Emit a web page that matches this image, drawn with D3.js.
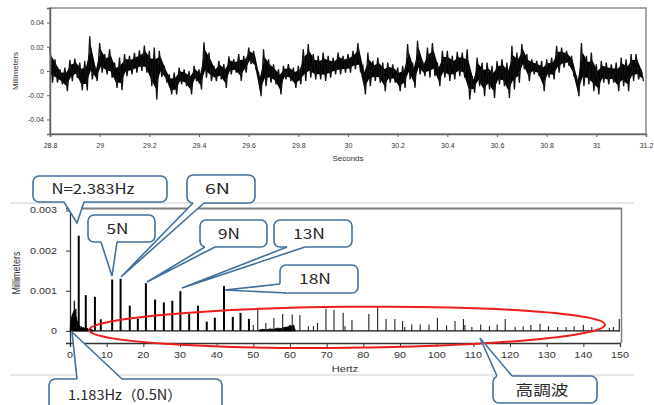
<!DOCTYPE html>
<html><head><meta charset="utf-8">
<script src="https://cdn.jsdelivr.net/npm/d3@7"></script>
<style>body{margin:0;background:#fff} svg{display:block}</style>
</head><body>
<svg id="c" width="654" height="405"></svg>
<script>
// ===== Top panel: displacement vs time (envelope per 0.02 s bin, micrometres) =====
const timeStart = 28.8, binWidth = 0.02;
const sigHi = [19.4,9.7,1.4,2.8,9.2,10.3,6.9,8.3,28.6,4.2,23,13.9,18,6.9,11.1,13.9,12.5,15,17,21,16.7,19.4,16.7,4.2,-2.8,-1.4,2.8,1.4,0,4.2,
  1.4,23.6,15.3,4.2,8.3,5.6,12,9.7,13.9,12.5,19.4,16.7,-1.4,18,9.7,5.6,1.4,4.2,5.6,2.8,4.2,18,22.2,13.9,12.5,15.3,12.5,11.1,15.3,12.5,
  13.9,16.7,23,4.2,15.3,8.3,11.1,6.9,6.9,5.6,2.8,4.2,22.2,6.9,25,8.3,19.4,23,6.9,16.7,16.7,12.5,15.8,15.3,18,-4.2,11.1,6.9,6.9,4.2,
  8.3,9.7,6.9,20.8,15.3,22.2,13.9,9.7,8.3,8.3,9.7,11.1,20.8,19.4,16.7,12.5,-4.2,23,12.5,15.3,5.6,8.3,6.9,5.6,6.9,11.1,9.7,13.9,13.9,1.4];
const sigLo = [-9.7,-9.7,-11,-16.7,-8.3,-5.6,-15.8,-16,-7,-8.3,-1.4,-2.8,-5.6,-13.9,-15.8,-4.2,-2.8,-1.4,0,-1.4,-12.5,-23.6,-5,-8.3,-19.4,-19.4,-11,-12.5,-19.4,-8.3,
  -15.3,-5.6,-8.3,-8.3,-7,-13.9,-2.8,-1.4,-8.3,-1.4,5.6,1.4,-20.8,-12.5,-9.7,-11,-19.4,-7,-8.3,-13.9,-11,-8.3,-5.6,-7,-7,-8.3,-5.6,-2.8,-2.8,-1.4,
  -1.4,1.4,0,-19.4,-12.5,-8.3,-9.7,-16.7,-9.7,-9.7,-16.7,-13.9,-7,-13.9,-2.8,-4.2,-5.6,-4.2,-12.5,-5.6,-8.3,-7,-4.2,-5.6,-23.6,-18,-12.5,-20.8,-15.3,-22.2,
  -11,-12.5,-22.2,-15.3,-9.7,1.4,-8.3,-2.8,-4.2,-16.7,-5.6,-7,-1.4,2.8,4.2,-4.2,-20.8,-12.5,-11,-16.7,-19.4,-9.7,-11,-9.7,-16.7,-12.5,-16.7,-8.3,-7,-8.3];
const timeTicks = [28.8,29,29.2,29.4,29.6,29.8,30,30.2,30.4,30.6,30.8,31,31.2];
const timeTickLabels = ['28.8','29','29.2','29.4','29.6','29.8','30','30.2','30.4','30.6','30.8','31','31.2'];
const dispTicks = [-0.04,-0.02,0,0.02,0.04];
const dispTickLabels = ['-0.04','-0.02','0','0.02','0.04'];

// ===== Bottom panel: amplitude spectrum =====
const peakHz = [2.383,4.3,6.8,8.4,11.5,13.8,16.3,18.5,20.7,23.2,25.6,27.9,30.1,32.5,34.9,37.3,39.5,42.0,44.4,46.5,48.8,50.0,
  51.2,53.4,55.6,58.0,60.6,62.7,65.0,66.4,67.5,69.8,72.0,74.5,75.0,76.9,81.5,83.9,86.2,88.6,90.7,91.3,93.2,95.5,97.9,
  100.2,102.7,105.0,107.3,107.7,109.6,112.0,114.4,116.5,118.7,121.4,123.6,125.7,128.2,130.5,133.0,135.3,137.5,140.0,142.3,147.1,148.2,149.8];
const peakMm = [0.00237,0.00089,0.00085,0.00029,0.00128,0.0013,0.00063,0.0003,0.00119,0.00078,0.00071,0.00075,0.00099,0.00042,0.00063,0.00023,0.00033,0.00112,0.00035,0.00045,0.0003,0.00015,
  0.00054,0.0002,0.00032,0.00042,0.00041,0.0004,0.00012,0.00012,0.0002,0.00055,0.00052,0.00045,0.00012,0.00027,0.00042,0.0006,0.0003,0.0003,0.00025,0.0001,0.00016,0.00016,0.00016,
  0.00033,0.00014,0.00025,0.0003,0.00015,0.0001,0.00016,0.00012,0.00016,0.0003,0.0001,0.00012,0.00015,0.00018,0.00012,0.0001,0.0001,0.00012,0.00015,0.0001,0.00008,0.0001,0.0003];
const lowNoiseHz = [0,0.1,0.2,0.3,0.4,0.5,0.6,0.7,0.8,0.9,1.0,1.1,1.18,1.3,1.4,1.5,1.6,1.7,1.8,1.9,2.0,2.1,2.2,2.6,2.8,3.0,3.3,3.6,4.0,4.5,5.0,5.5,6.0,6.5];
const lowNoiseMm = [0,0.0001,0.00025,0.00012,0.00035,0.0002,0.0004,0.00025,0.00045,0.0003,0.0005,0.00035,0.00075,0.0003,0.0005,0.00025,0.00055,0.0002,0.00035,0.00015,0.00025,0.0001,0.0002,0.00012,0.00008,0.00012,0.00006,0.0001,0.00005,0.00008,0.00004,0.00006,0.00003,0];
const humpHz = [51.5,52.5,53.5,54.5,55.5,56.5,57.5,58.5,59.5,60,60.5,61,61.4];
const humpMm = [0.00002,0.00004,0.00003,0.00005,0.00004,0.00007,0.00006,0.00009,0.0001,0.00014,0.00012,0.00015,0.00002];
const freqTicks = [0,10,20,30,40,50,60,70,80,90,100,110,120,130,140,150];
const ampTicks = [0,0.001,0.002,0.003];
const ampTickLabels = ['0','0.001','0.002','0.003'];
// harmonic region highlighted by the red ellipse (Hz / mm extents)
const ellipseHz = [5.2,145.9], ellipseMm = [-0.00042,0.0006];

const callouts = [
  {text:'N=2.383Hz', box:[33,176,134,26], tx:93, tw:83, base:[[64,202],[84,202]], tip:[77,223], inw:[0,-2.5]},
  {text:'5N', box:[88,215,67,27], tx:117.5, tw:22, base:[[101,242],[117,242]], tip:[112,276], inw:[0,-2.5]},
  {text:'6N', box:[187,175,68,28], tx:217.5, tw:25, base:[[193,203],[204,203]], tip:[121,277], inw:[0,-2.5]},
  {text:'9N', box:[200,220,67,27], tx:229, tw:22, base:[[205,247],[215,247]], tip:[147,282], inw:[0,-2.5]},
  {text:'13N', box:[274,220,78,27], tx:309, tw:32, base:[[287,247],[305,247]], tip:[182,288], inw:[0,-2.5]},
  {text:'18N', box:[280,265,78,28], tx:315, tw:32, base:[[280,284],[287,293]], tip:[225,290], inw:[2.5,-2.5]},
  {text:'1.183Hz（0.5N）', box:[49,379,173,34], tx:125, ty:395, tw:114, base:[[77,379],[122,379]], tip:[72,332], inw:[0,2.5]},
  {text:'高調波', box:[493,376,104,27], tx:542, tw:53, base:[[497,376],[512,376]], tip:[480,338], inw:[0,2.5]}
];

const svg = d3.select('#c');
const axisFont = 'Liberation Sans, Arial, sans-serif';

// ---------- TOP ----------
const xT = d3.scaleLinear().domain([28.8,31.2]).range([50,646]);
const yT = d3.scaleLinear().domain([-0.052,0.052]).range([134,8]);
const gT = svg.append('g');
gT.append('rect').attr('x',50).attr('y',8).attr('width',596).attr('height',126)
  .attr('fill','none').attr('stroke','#8a8a8a').attr('stroke-width',1.5);
const bins = sigHi.map((h,i)=>({t: timeStart+(i+0.25)*binWidth, hi: h/1000, lo: sigLo[i]/1000}));
// dense core of the signal (central part of each bin's range)
const core = 0.28;
gT.append('path').datum(bins)
  .attr('d', d3.area().x(d=>xT(d.t))
    .y0(d=>yT((d.hi+d.lo)/2 - core*(d.hi-d.lo)))
    .y1(d=>yT((d.hi+d.lo)/2 + core*(d.hi-d.lo))))
  .attr('fill','#000');
const pts = [];
bins.forEach((b,i)=>{
  pts.push([timeStart+i*binWidth, b.hi]);
  pts.push([timeStart+(i+0.5)*binWidth, b.lo]);
});
gT.append('path').datum(pts)
  .attr('d', d3.line().x(d=>xT(d[0])).y(d=>yT(d[1])))
  .attr('fill','none').attr('stroke','#111').attr('stroke-width',1.3);
const axTL = gT.append('g').attr('transform','translate(50,0)')
  .call(d3.axisLeft(yT).tickValues(dispTicks).tickSize(3).tickPadding(3).tickFormat((d,i)=>dispTickLabels[i]));
const axTB = gT.append('g').attr('transform','translate(0,134)')
  .call(d3.axisBottom(xT).tickValues(timeTicks).tickSize(3).tickPadding(6).tickFormat((d,i)=>timeTickLabels[i]));
[axTL,axTB].forEach(a=>{
  a.select('.domain').attr('stroke','#666').attr('stroke-width',1.5);
  a.selectAll('.tick line').attr('stroke','#666');
  a.selectAll('text').attr('font-family',axisFont).attr('font-size',7).attr('fill','#333');
});
gT.append('text').attr('x',348).attr('y',161).attr('text-anchor','middle')
  .attr('font-family',axisFont).attr('font-size',8).attr('fill','#333').text('Seconds');
gT.append('text').attr('transform','translate(18,71) rotate(-90)').attr('text-anchor','middle')
  .attr('font-family',axisFont).attr('font-size',8).attr('fill','#333').text('Millimeters');

// ---------- BOTTOM ----------
const xB = d3.scaleLinear().domain([0,150]).range([70,620]);
const yB = d3.scaleLinear().domain([-0.0003,0.00306]).range([343,208]);
const gB = svg.append('g');
[203,375].forEach(yy=>gB.append('line').attr('x1',10).attr('x2',634).attr('y1',yy).attr('y2',yy)
  .attr('stroke','#cfcfcf').attr('stroke-width',1));
gB.append('line').attr('x1',70).attr('x2',622).attr('y1',208.5).attr('y2',208.5).attr('stroke','#7f7f7f').attr('stroke-width',2);
gB.append('line').attr('x1',621.5).attr('x2',621.5).attr('y1',208).attr('y2',343).attr('stroke','#7f7f7f').attr('stroke-width',1.5);

const stretch = 1.3;
const axBL = gB.append('g').attr('transform','translate(70,0)')
  .call(d3.axisLeft(yB).tickValues(ampTicks).tickSize(4).tickFormat(''));
const axBB = gB.append('g').attr('transform','translate(0,343)')
  .call(d3.axisBottom(xB).tickValues(freqTicks).tickSize(4).tickFormat(''));
[axBL,axBB].forEach(a=>{
  a.select('.domain').attr('stroke','#333').attr('stroke-width',1.3);
  a.selectAll('.tick line').attr('stroke','#333');
});
ampTicks.forEach((v,i)=>gB.append('text').attr('transform',`translate(57,${yB(v)+3}) scale(${stretch},1)`)
  .attr('text-anchor','end').attr('font-family',axisFont).attr('font-size',8.3).attr('fill','#333').text(ampTickLabels[i]));
freqTicks.forEach(v=>gB.append('text').attr('transform',`translate(${xB(v)},${358}) scale(${stretch},1)`)
  .attr('text-anchor','middle').attr('font-family',axisFont).attr('font-size',8.3).attr('fill','#333').text(v));
gB.append('text').attr('transform',`translate(345,372) scale(${stretch},1)`).attr('text-anchor','middle')
  .attr('font-family',axisFont).attr('font-size',8.5).attr('fill','#333').text('Hertz');
gB.append('text').attr('transform',`translate(20,273) rotate(-90) scale(1,${stretch})`).attr('text-anchor','middle')
  .attr('font-family',axisFont).attr('font-size',9).attr('fill','#333').text('Millimeters');

// spectrum floor
gB.append('line').attr('x1',xB(0)).attr('x2',xB(150)).attr('y1',yB(0)).attr('y2',yB(0))
  .attr('stroke','#111').attr('stroke-width',1.2);
const area = d3.area().x(d=>xB(d[0])).y0(yB(0)).y1(d=>yB(d[1]));
const lowPts = lowNoiseHz.map((f,i)=>[f,lowNoiseMm[i]]);
const humpPts = humpHz.map((f,i)=>[f,humpMm[i]]);
[lowPts,humpPts].forEach(p=>gB.append('path').datum(p).attr('d',area).attr('fill','#000')
  .attr('stroke','#000').attr('stroke-width',0.8));
gB.selectAll('line.peak').data(peakHz.map((f,i)=>[f,peakMm[i]])).join('line').attr('class','peak')
  .attr('x1',d=>xB(d[0])).attr('x2',d=>xB(d[0])).attr('y1',yB(0)).attr('y2',d=>yB(d[1]))
  .attr('stroke',d=>d[0]<50?'#000':'#222').attr('stroke-width',d=>d[0]<50?2:1.1);

// red ellipse
const ex0 = xB(ellipseHz[0]), ex1 = xB(ellipseHz[1]);
const ey0 = yB(ellipseMm[1]), ey1 = yB(ellipseMm[0]);
gB.append('ellipse').attr('cx',(ex0+ex1)/2).attr('cy',(ey0+ey1)/2).attr('rx',(ex1-ex0)/2).attr('ry',(ey1-ey0)/2)
  .attr('transform',`rotate(-0.6,${(ex0+ex1)/2},${(ey0+ey1)/2})`)
  .attr('fill','none').attr('stroke','#ee1c1c').attr('stroke-width',2);

// callouts
const calloutStroke = '#41719c';
callouts.forEach(c=>{
  const g = svg.append('g');
  const [bx,by,bw,bh] = c.box;
  g.append('rect').attr('x',bx).attr('y',by).attr('width',bw).attr('height',bh).attr('rx',6)
    .attr('fill','#fff').attr('stroke',calloutStroke).attr('stroke-width',1.6);
  const [b1,b2] = c.base, t = c.tip, w = c.inw;
  const poly = [b1,t,b2,[b2[0]+w[0],b2[1]+w[1]],[b1[0]+w[0],b1[1]+w[1]]];
  g.append('path').attr('d','M'+poly.map(p=>p.join(',')).join('L')+'Z').attr('fill','#fff').attr('stroke','none');
  g.append('path').attr('d',`M${b1[0]},${b1[1]}L${t[0]},${t[1]}L${b2[0]},${b2[1]}`)
    .attr('fill','none').attr('stroke',calloutStroke).attr('stroke-width',1.6).attr('stroke-linejoin','miter');
  const ty = (c.ty!==undefined?c.ty:by+bh/2)+5;
  const txt = g.append('text').attr('text-anchor','middle')
    .attr('font-family','"Noto Sans CJK JP", "Noto Sans", sans-serif').attr('font-size',14).attr('fill','#262626').text(c.text);
  const len = txt.node().getComputedTextLength() || c.tw;
  txt.attr('transform',`translate(${c.tx},${ty}) scale(${c.tw/len},1)`);
});
</script>
</body></html>
